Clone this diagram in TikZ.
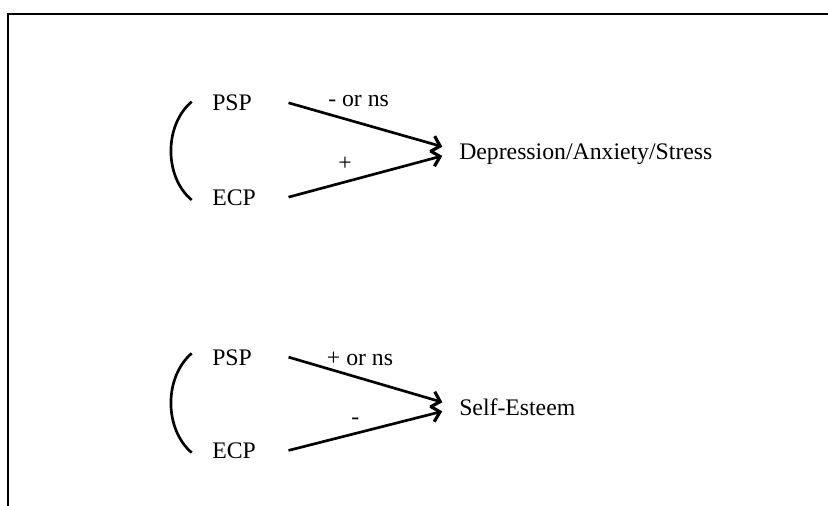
\documentclass[tikz,border=0pt]{standalone}
\usepackage{fontspec}
\setmainfont{Liberation Serif}
\usetikzlibrary{arrows.meta}
\tikzset{
	var/.style={inner sep=0pt, anchor=base west, font=\fontsize{17.8}{21}\selectfont, text height=11.8pt, text depth=0pt},
	src/.style={var, text width=57pt, align=left},
	lbl/.style={inner sep=0pt, font=\fontsize{17.8}{21}\selectfont},
	effect/.style={line width=2pt, -{Straight Barb[length=6pt, width=12pt, line width=2.4pt]}, shorten >=13pt},
	corr/.style={line width=2pt}
}
\begin{document}
\begin{tikzpicture}[x=0.75pt, y=-0.75pt]
	\useasboundingbox (0,0) rectangle (828,506);
	% frame
	\draw[line width=1.8pt] (8,506) -- (8,14) -- (828,14);

	% upper model
	\node[src] (psp1) at (212, 110.7) {PSP};
	\node[src] (ecp1) at (212, 205) {ECP};
	\node[var] (dep1) at (459, 159.3) {Depression/Anxiety/Stress};
	\draw[corr] (191.7,101.7) .. controls (164,125) and (164,177) .. (191.7,200);
	\draw[effect] (psp1.east) -- (dep1.west);
	\draw[effect] (ecp1.east) -- (dep1.west);
	\node[lbl, anchor=base west] (lab1) at (328, 106.7) {- or ns};
	\node[lbl, anchor=base] (lab2) at (345, 171) {+};

	% lower model
	\node[src] (psp2) at (212, 365) {PSP};
	\node[src] (ecp2) at (212, 458.3) {ECP};
	\node[var] (se2) at (459, 415) {Self-Esteem};
	\draw[corr] (191.7,353.3) .. controls (164,377) and (164,429) .. (191.7,452.7);
	\draw[effect] (psp2.east) -- (se2.west);
	\draw[effect] (ecp2.east) -- (se2.west);
	\node[lbl, anchor=base west] (lab3) at (326.7, 365) {+ or ns};
	\node[lbl, anchor=base] (lab4) at (355.3, 424.5) {-};
\end{tikzpicture}
\end{document}
